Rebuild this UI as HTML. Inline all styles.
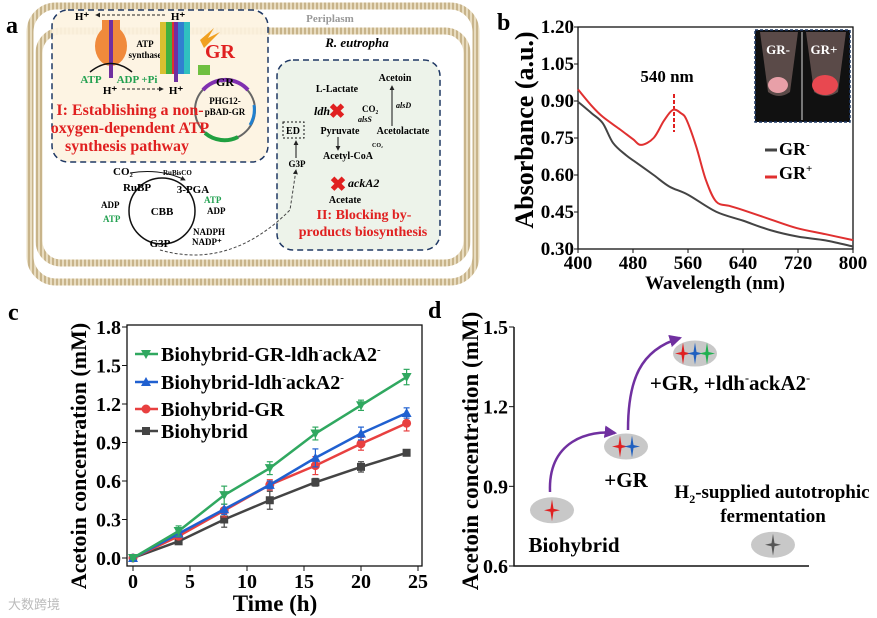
<!DOCTYPE html>
<html><head><meta charset="utf-8">
<style>
html,body{margin:0;padding:0;background:#fff;}
svg{display:block;font-family:"Liberation Serif",serif;font-weight:bold;}
</style></head>
<body>
<svg id="fig" width="877" height="618" viewBox="0 0 877 618" xmlns="http://www.w3.org/2000/svg">
<defs>
<pattern id="mem" width="4" height="4" patternUnits="userSpaceOnUse"><rect width="4" height="4" fill="#e8dcc0"/><rect width="2" height="4" fill="#c8b48a"/></pattern>
<marker id="ah" viewBox="0 0 6 6" refX="5" refY="3" markerWidth="5" markerHeight="5" orient="auto"><path d="M0,0L6,3L0,6z" fill="#222"/></marker>
<marker id="ahp" viewBox="0 0 6 6" refX="5" refY="3" markerWidth="5" markerHeight="5" orient="auto"><path d="M0,0L6,3L0,6z" fill="#7030a0"/></marker>
</defs>

<!-- PANEL A -->
<g>
<text x="6" y="33" font-size="24">a</text>
<rect x="30" y="6" width="446" height="276" rx="26" fill="none" stroke="url(#mem)" stroke-width="7"/>
<rect x="39" y="31" width="428" height="232" rx="22" fill="none" stroke="url(#mem)" stroke-width="7"/>
<text x="330" y="22" font-size="11" fill="#999" text-anchor="middle">Periplasm</text>
<text x="357" y="47" font-size="13" font-style="italic" text-anchor="middle">R. eutropha</text>
<rect x="52" y="10" width="216" height="152" rx="16" fill="#fdf3e0" fill-opacity="0.9" stroke="#1f3864" stroke-width="1.5" stroke-dasharray="6,4"/>
<rect x="277" y="60" width="163" height="190" rx="16" fill="#edf3ea" stroke="#1f3864" stroke-width="1.5" stroke-dasharray="6,4"/>
<ellipse cx="111" cy="46" rx="16" ry="20" fill="#f08a3c"/>
<rect x="102" y="20" width="18" height="12" fill="#f08a3c"/>
<line x1="111" y1="20" x2="111" y2="78" stroke="#7030a0" stroke-width="4"/>
<path d="M90,72 Q111,55 132,72" fill="none" stroke="#111" stroke-width="1.5"/>
<text x="145" y="47" font-size="9" text-anchor="middle">ATP</text>
<text x="145" y="58" font-size="9" text-anchor="middle">synthase</text>
<text x="91" y="83" font-size="11" fill="#22a050" text-anchor="middle">ATP</text>
<text x="137" y="83" font-size="11" fill="#22a050" text-anchor="middle">ADP +Pi</text>
<text x="82" y="20" font-size="11" text-anchor="middle">H⁺</text>
<text x="178" y="20" font-size="11" text-anchor="middle">H⁺</text>
<text x="110" y="94" font-size="11" text-anchor="middle">H⁺</text>
<text x="176" y="94" font-size="11" text-anchor="middle">H⁺</text>
<line x1="165" y1="15" x2="96" y2="15" stroke="#222" stroke-dasharray="3,2" marker-end="url(#ah)"/>
<line x1="122" y1="89" x2="163" y2="89" stroke="#222" stroke-dasharray="3,2" marker-end="url(#ah)"/>
<g>
<rect x="160" y="22" width="6" height="52" fill="#d8c030"/><rect x="166" y="22" width="6" height="52" fill="#40b040"/><rect x="172" y="22" width="6" height="52" fill="#e03030"/><rect x="178" y="22" width="6" height="52" fill="#3080d0"/><rect x="184" y="22" width="6" height="52" fill="#30c0c0"/>
<line x1="176" y1="22" x2="176" y2="82" stroke="#7030a0" stroke-width="4"/>
<path d="M200,40 L214,28 L208,38 L220,32 L204,48z" fill="#f0a020"/>
<rect x="198" y="65" width="12" height="10" fill="#70c040"/>
</g>
<text x="220" y="58" font-size="20" fill="#e02020" text-anchor="middle">GR</text>
<circle cx="225" cy="110" r="30" fill="none" stroke="#666" stroke-width="2"/>
<path d="M203,90 A30,30 0 0 1 248,90" fill="none" stroke="#8030b0" stroke-width="4"/>
<path d="M205,133 A30,30 0 0 0 238,137" fill="none" stroke="#20a040" stroke-width="4"/>
<path d="M254,105 A30,30 0 0 1 250,125" fill="none" stroke="#2080d0" stroke-width="3"/>
<text x="225" y="86" font-size="12" text-anchor="middle">GR</text>
<text x="225" y="104" font-size="9" text-anchor="middle">PHG12-</text>
<text x="225" y="115" font-size="9" text-anchor="middle">pBAD-GR</text>
<text x="130" y="115" font-size="16" fill="#e02020" text-anchor="middle">I: Establishing a non-</text>
<text x="130" y="133" font-size="16" fill="#e02020" text-anchor="middle">oxygen-dependent ATP</text>
<text x="127" y="151" font-size="16" fill="#e02020" text-anchor="middle">synthesis pathway</text>
<g>
<circle cx="162" cy="211" r="33" fill="none" stroke="#111" stroke-width="1.5"/>
<text x="113" y="175" font-size="11">CO₂</text>
<text x="163" y="175" font-size="7">RuBisCO</text>
<path d="M130,173 Q160,168 185,180" fill="none" stroke="#111" marker-end="url(#ah)"/>
<text x="137" y="191" font-size="11" text-anchor="middle">RuBP</text>
<text x="193" y="193" font-size="11" text-anchor="middle">3-PGA</text>
<text x="162" y="215" font-size="11" text-anchor="middle">CBB</text>
<text x="204" y="203" font-size="9" fill="#22a050">ATP</text>
<text x="207" y="214" font-size="9">ADP</text>
<text x="101" y="208" font-size="9">ADP</text>
<text x="103" y="222" font-size="9" fill="#22a050">ATP</text>
<text x="193" y="235" font-size="9">NADPH</text>
<text x="192" y="245" font-size="9">NADP⁺</text>
<text x="160" y="247" font-size="11" text-anchor="middle">G3P</text>
<path d="M160,250 Q230,270 290,210 L296,170" fill="none" stroke="#444" stroke-dasharray="3,2" marker-end="url(#ah)"/>
</g>
<g>
<text x="395" y="81" font-size="10" text-anchor="middle">Acetoin</text>
<text x="337" y="92" font-size="10" text-anchor="middle">L-Lactate</text>
<text x="322" y="115" font-size="12" font-style="italic" text-anchor="middle">ldh</text>
<text x="337" y="118" font-size="20" fill="#e02020" text-anchor="middle">✖</text>
<text x="362" y="112" font-size="9">CO₂</text>
<text x="396" y="108" font-size="8" font-style="italic">alsD</text>
<text x="358" y="122" font-size="8" font-style="italic">alsS</text>
<line x1="392" y1="126" x2="392" y2="86" stroke="#111" marker-end="url(#ah)"/>
<rect x="283" y="122" width="21" height="16" fill="none" stroke="#111" stroke-dasharray="2,2"/>
<text x="293" y="134" font-size="10" text-anchor="middle">ED</text>
<text x="340" y="134" font-size="10" text-anchor="middle">Pyruvate</text>
<text x="403" y="134" font-size="10" text-anchor="middle">Acetolactate</text>
<text x="372" y="147" font-size="6">CO₂</text>
<line x1="338" y1="137" x2="338" y2="150" stroke="#111" marker-end="url(#ah)"/>
<text x="348" y="159" font-size="10" text-anchor="middle">Acetyl-CoA</text>
<text x="297" y="167" font-size="9" text-anchor="middle">G3P</text>
<line x1="296" y1="158" x2="296" y2="141" stroke="#111" marker-end="url(#ah)"/>
<text x="338" y="191" font-size="20" fill="#e02020" text-anchor="middle">✖</text>
<text x="348" y="187" font-size="12" font-style="italic">ackA2</text>
<text x="345" y="203" font-size="10" text-anchor="middle">Acetate</text>
<text x="364" y="219" font-size="14" fill="#e02020" text-anchor="middle">II: Blocking by-</text>
<text x="363" y="236" font-size="14" fill="#e02020" text-anchor="middle">products biosynthesis</text>
</g>
</g>

<!-- PANEL B -->
<g id="pb">
<text x="497" y="30" font-size="24">b</text>
<text transform="translate(533,130) rotate(-90)" font-size="26" text-anchor="middle">Absorbance (a.u.)</text>
<text x="715" y="289" font-size="19" text-anchor="middle">Wavelength (nm)</text>
<rect x="755" y="30" width="95" height="92" fill="#111" stroke="#1f3864" stroke-dasharray="3,2" stroke-width="1.5"/>
<line x1="802" y1="32" x2="802" y2="120" stroke="#ddd"/>
<path d="M760,32 L798,32 L790,92 Q779,100 768,92z" fill="#5a4a48"/>
<path d="M806,32 L846,32 L838,92 Q826,100 814,92z" fill="#5a4a48"/>
<ellipse cx="778" cy="85" rx="10" ry="8" fill="#e8a0a8"/>
<ellipse cx="825" cy="85" rx="13" ry="10" fill="#e84850"/>
<text x="778" y="54" font-size="13" fill="#fff" text-anchor="middle">GR-</text>
<text x="824" y="54" font-size="13" fill="#fff" text-anchor="middle">GR+</text>
<text x="667" y="82" font-size="17" text-anchor="middle">540 nm</text>
<line x1="674" y1="94" x2="674" y2="132" stroke="#e02020" stroke-width="2" stroke-dasharray="4,2"/>
<line x1="765" y1="150" x2="777" y2="150" stroke="#444" stroke-width="3"/>
<text x="779" y="155" font-size="18">GR<tspan font-size="11" dy="-7">-</tspan></text>
<line x1="765" y1="177" x2="777" y2="177" stroke="#e03030" stroke-width="3"/>
<text x="779" y="179" font-size="18">GR<tspan font-size="11" dy="-7">+</tspan></text>
</g>

<!-- PANEL C -->
<g id="pc">
<text x="8" y="320" font-size="24">c</text>
<text transform="translate(86,456) rotate(-90)" font-size="22" text-anchor="middle">Acetoin concentration (mM)</text>
<text x="275" y="611" font-size="23" text-anchor="middle">Time (h)</text>
</g>

<!-- PANEL D -->
<g id="pd">
<text x="428" y="318" font-size="24">d</text>
<text transform="translate(478,451) rotate(-90)" font-size="23" text-anchor="middle">Acetoin concentration (mM)</text>
<path d="M550,492 C548,440 590,430 615,433" fill="none" stroke="#7030a0" stroke-width="2.5" marker-end="url(#ahp)"/>
<path d="M628,430 C628,380 640,350 680,338" fill="none" stroke="#7030a0" stroke-width="2.5" marker-end="url(#ahp)"/>
<text x="574" y="552" font-size="21" text-anchor="middle">Biohybrid</text>
<text x="626" y="487" font-size="21" text-anchor="middle">+GR</text>
<text x="730" y="390" font-size="21" text-anchor="middle">+GR, +ldh<tspan font-size="12" dy="-8">-</tspan><tspan dy="8">ackA2</tspan><tspan font-size="12" dy="-8">-</tspan></text>
<text x="772" y="498" font-size="19" text-anchor="middle">H<tspan font-size="12" dy="5">2</tspan><tspan dy="-5">-supplied autotrophic</tspan></text>
<text x="773" y="522" font-size="19" text-anchor="middle">fermentation</text>
</g>
</svg>
<script>
const NS="http://www.w3.org/2000/svg";
// ---- panel b data
const bWavelength=[400,420,436,451,470,485,510,533,560,601,640,679,720,760,800];
const bGRminus=[0.897,0.85,0.81,0.73,0.68,0.65,0.60,0.553,0.52,0.451,0.415,0.377,0.35,0.335,0.31];
const bWavelength2=[400,420,436,461,480,492,510,525,538,550,558,572,586,601,620,640,680,718,760,800];
const bGRplus=[0.947,0.88,0.836,0.785,0.745,0.722,0.75,0.82,0.864,0.85,0.823,0.715,0.58,0.492,0.475,0.458,0.42,0.385,0.36,0.336];
const bXTicks=[400,480,560,640,720,800];
const bYTicks=["0.30","0.45","0.60","0.75","0.90","1.05","1.20"];
// ---- panel c data
const cTime=[0,4,8,12,16,20,24];
const cBiohybrid=[0,0.13,0.30,0.45,0.59,0.71,0.82];
const cBiohybridErr=[0.01,0.02,0.06,0.07,0.03,0.04,0.02];
const cGR=[0,0.17,0.37,0.57,0.72,0.89,1.05];
const cGRErr=[0.01,0.02,0.05,0.04,0.07,0.05,0.06];
const cLdh=[0,0.19,0.38,0.57,0.78,0.97,1.13];
const cLdhErr=[0.01,0.02,0.04,0.03,0.07,0.05,0.04];
const cGRLdh=[0,0.21,0.49,0.70,0.97,1.19,1.41];
const cGRLdhErr=[0.01,0.04,0.07,0.05,0.05,0.04,0.06];
const cXTicks=[0,5,10,15,20,25];
const cYTicks=["0.0","0.3","0.6","0.9","1.2","1.5","1.8"];
// ---- panel d data
const dCategory=[1,2,3,4];
const dValues=[0.81,1.05,1.40,0.68];
const dYTicks=["0.6","0.9","1.2","1.5"];

function mk(tag,attrs,parent){const e=document.createElementNS(NS,tag);for(const k in attrs)e.setAttribute(k,attrs[k]);parent.appendChild(e);return e;}
function smooth(pts){
 let d='M'+pts[0][0]+','+pts[0][1];
 for(let i=0;i<pts.length-1;i++){
  const p0=pts[Math.max(0,i-1)],p1=pts[i],p2=pts[i+1],p3=pts[Math.min(pts.length-1,i+2)];
  const c1=[p1[0]+(p2[0]-p0[0])/6,p1[1]+(p2[1]-p0[1])/6],c2=[p2[0]-(p3[0]-p1[0])/6,p2[1]-(p3[1]-p1[1])/6];
  d+=` C${c1[0]},${c1[1]} ${c2[0]},${c2[1]} ${p2[0]},${p2[1]}`;
 }
 return d;
}

// ---------- panel B
(function(){
const g=document.getElementById('pb');
const L=578,R=853,T=27,B=249;
const x=v=>L+(v-400)/400*(R-L);
const y=v=>B-(v-0.30)/0.90*(B-T);
const frame=mk('rect',{x:L,y:T,width:R-L,height:B-T,fill:'none',stroke:'#111','stroke-width':1.3},g);


bXTicks.forEach(v=>{
 mk('line',{x1:x(v),y1:B,x2:x(v),y2:B+4,stroke:'#111'},g);
 const t=mk('text',{x:x(v),y:B+20,'font-size':19,'text-anchor':'middle'},g);t.textContent=v;
 
 
});
bYTicks.forEach(s=>{
 const v=parseFloat(s);
 mk('line',{x1:L-4,y1:y(v),x2:L,y2:y(v),stroke:'#111'},g);
 const t=mk('text',{x:L-4,y:y(v)+6,'font-size':19,'text-anchor':'end'},g);t.textContent=s;
 
 
});
const p1=mk('path',{d:smooth(bWavelength.map((w,i)=>[x(w),y(bGRminus[i])])),fill:'none',stroke:'#444','stroke-width':2},g);


const p2=mk('path',{d:smooth(bWavelength2.map((w,i)=>[x(w),y(bGRplus[i])])),fill:'none',stroke:'#e03030','stroke-width':2},g);


})();

// ---------- panel C
(function(){
const g=document.getElementById('pc');
const L=127,R=422,T=325,B=566;
const x=v=>133+v/25*(418-133);
const y=v=>558-v/1.8*(558-327);
const frame=mk('rect',{x:L,y:T,width:R-L,height:B-T,fill:'none',stroke:'#111','stroke-width':1.3},g);


cXTicks.forEach(v=>{
 mk('line',{x1:x(v),y1:B,x2:x(v),y2:B+5,stroke:'#111'},g);
 const t=mk('text',{x:x(v),y:B+22,'font-size':20,'text-anchor':'middle'},g);t.textContent=v;
 
 
});
cYTicks.forEach(s=>{
 const v=parseFloat(s);
 mk('line',{x1:L-5,y1:y(v),x2:L,y2:y(v),stroke:'#111'},g);
 const t=mk('text',{x:L-6,y:y(v)+7,'font-size':20,'text-anchor':'end'},g);t.textContent=s;
 
 
});
const series=[
 {v:cBiohybrid,e:cBiohybridErr,c:'#444',m:'sq',n:'series-biohybrid'},
 {v:cGR,e:cGRErr,c:'#e84040',m:'ci',n:'series-biohybrid-gr'},
 {v:cLdh,e:cLdhErr,c:'#2060d0',m:'up',n:'series-biohybrid-ldh-acka2'},
 {v:cGRLdh,e:cGRLdhErr,c:'#30a860',m:'dn',n:'series-biohybrid-gr-ldh-acka2'}];
function marker(sg,m,cx,cy,c){
 if(m==='sq')return mk('rect',{x:cx-4,y:cy-4,width:8,height:8,fill:c},sg);
 if(m==='ci')return mk('circle',{cx:cx,cy:cy,r:4.5,fill:c},sg);
 if(m==='up')return mk('path',{d:`M${cx},${cy-5}L${cx+5},${cy+4}L${cx-5},${cy+4}z`,fill:c},sg);
 return mk('path',{d:`M${cx},${cy+5}L${cx+5},${cy-4}L${cx-5},${cy-4}z`,fill:c},sg);
}
series.forEach(s=>{
 const sg=mk('g',{},g);
 
 
 mk('polyline',{points:cTime.map((t,i)=>x(t)+','+y(s.v[i])).join(' '),fill:'none',stroke:s.c,'stroke-width':2.5},sg);
 cTime.forEach((t,i)=>{
  const cx=x(t),y1=y(s.v[i]+s.e[i]),y2=y(s.v[i]-s.e[i]);
  mk('line',{x1:cx,y1:y1,x2:cx,y2:y2,stroke:s.c,'stroke-width':1.2},sg);
  mk('line',{x1:cx-3,y1:y1,x2:cx+3,y2:y1,stroke:s.c,'stroke-width':1.2},sg);
  mk('line',{x1:cx-3,y1:y2,x2:cx+3,y2:y2,stroke:s.c,'stroke-width':1.2},sg);
  const mm=marker(sg,s.m,cx,y(s.v[i]),s.c);
  
  
 });
});
const leg=[
 {s:series[3],y:354,txt:'Biohybrid-GR-ldh<tspan font-size="11" dy="-8">-</tspan><tspan dy="8">ackA2</tspan><tspan font-size="11" dy="-8">-</tspan>'},
 {s:series[2],y:382,txt:'Biohybrid-ldh<tspan font-size="11" dy="-8">-</tspan><tspan dy="8">ackA2</tspan><tspan font-size="11" dy="-8">-</tspan>'},
 {s:series[1],y:409,txt:'Biohybrid-GR'},
 {s:series[0],y:431,txt:'Biohybrid'}];
leg.forEach(l=>{
 const lg=mk('g',{},g);
 
 
 mk('line',{x1:135,y1:l.y,x2:158,y2:l.y,stroke:l.s.c,'stroke-width':2.5},lg);
 marker(lg,l.s.m,146,l.y,l.s.c);
 const t=mk('text',{x:161,y:l.y+7,'font-size':20},lg);t.innerHTML=l.txt;
});
})();

// ---------- panel D
(function(){
const g=document.getElementById('pd');
const L=514,R=809;
const y=v=>566-(v-0.6)/0.9*(566-327);
const ax=mk('path',{d:`M${L},327 L${L},566 L${R},566`,fill:'none',stroke:'#111','stroke-width':1.5},g);


dYTicks.forEach(s=>{
 const v=parseFloat(s);
 mk('line',{x1:L-5,y1:y(v),x2:L,y2:y(v),stroke:'#111'},g);
 const t=mk('text',{x:L-6,y:y(v)+7,'font-size':20,'text-anchor':'end'},g);t.textContent=s;
 
 
});
const cx=[552,626,695,773];
const stars=[['#e02020'],['#e02020','#2060c0'],['#e02020','#2060c0','#20b050'],['#555']];
const xCat=c=>cx[c-1];
dCategory.forEach((c,i)=>{
 const sg=mk('g',{},g);
 
 
 const X=xCat(c),Y=y(dValues[i]);
 const n=stars[i].length;
 mk('ellipse',{cx:X,cy:Y,rx:22,ry:13,fill:'#c8c8c8'},sg);
 stars[i].forEach((col,k)=>{
  const sx=X+(k-(n-1)/2)*12, sy=Y;
  mk('path',{d:`M${sx},${sy-11}L${sx+1.5},${sy-1.5}L${sx+8},${sy}L${sx+1.5},${sy+1.5}L${sx},${sy+11}L${sx-1.5},${sy+1.5}L${sx-8},${sy}L${sx-1.5},${sy-1.5}z`,fill:col},sg);
 });
});
})();
</script>
<div style="position:absolute;left:8px;top:594px;font:13px 'Liberation Sans','Noto Sans CJK SC',sans-serif;color:#bbb">大数跨境</div>
</body></html>
